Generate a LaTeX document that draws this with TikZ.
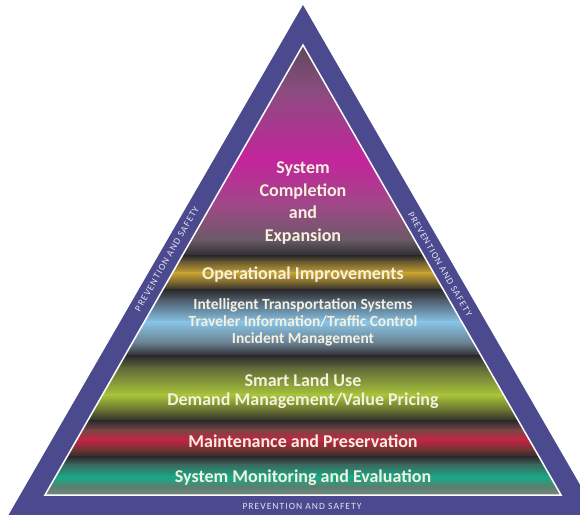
\documentclass[tikz,border=0pt]{standalone}
\usepackage{fontspec}
\setmainfont{Carlito}
\newfontfamily\edgefont[LetterSpace=11]{Carlito}

% frame and lettering
\definecolor{frame}{HTML}{4B4A8F}
\definecolor{ink}{HTML}{F5F1DE}
% colours of the bands, top to bottom
\definecolor{apexgray}{HTML}{5A4856}
\definecolor{mauve}{HTML}{8A4C80}
\definecolor{magenta}{HTML}{C4249C}
\definecolor{plum}{HTML}{A04888}
\definecolor{ash}{HTML}{6A5A66}
\definecolor{gap}{HTML}{2C2B2D}
\definecolor{olivegap}{HTML}{6A5A30}
\definecolor{gold}{HTML}{C8A232}
\definecolor{slate}{HTML}{4E5C6C}
\definecolor{sky}{HTML}{88C4E6}
\definecolor{steel}{HTML}{6A8090}
\definecolor{moss}{HTML}{606A3A}
\definecolor{lime}{HTML}{A8C43A}
\definecolor{drab}{HTML}{5A6030}
\definecolor{rust}{HTML}{7A4444}
\definecolor{crimson}{HTML}{C42444}
\definecolor{maroon}{HTML}{6A3434}
\definecolor{pine}{HTML}{3A6A5E}
\definecolor{teal}{HTML}{18A888}
\definecolor{sage}{HTML}{5A8070}
\definecolor{floor}{HTML}{8A8A8A}

\tikzset{
  layer/.style={text=ink, font=\bfseries\fontsize{18}{22.5}\selectfont, align=center, inner sep=0pt},
  small layer/.style={layer, font=\bfseries\fontsize{15.5}{17}\selectfont},
  rim label/.style={text=white!85!frame, font=\edgefont\fontsize{9.5}{10}\selectfont, inner sep=0pt},
}

\begin{document}
\begin{tikzpicture}[x=1pt, y=-1pt]
    \useasboundingbox (0,0) rectangle (580,514);
    \clip (0,0) rectangle (580,514);

    % Define vertices
    \coordinate (top) at (303,5);
    \coordinate (left) at (-3,535);
    \coordinate (right) at (609,535);
    \coordinate (itop) at (303,45);
    \coordinate (ileft) at (45,495);
    \coordinate (iright) at (561,495);

    % Outer frame
    \fill[frame] (top) -- (right) -- (left) -- cycle;

    % Colour bands inside the pyramid
    \begin{scope}
        \clip (itop) -- (iright) -- (ileft) -- cycle;
        \foreach \ya/\ca/\yb/\cb in {40/apexgray/90/mauve, 90/mauve/160/magenta,
            160/magenta/205/plum, 205/plum/240/ash, 240/ash/256/gap,
            256/gap/262/olivegap, 262/olivegap/273/gold, 273/gold/284/olivegap,
            284/olivegap/290/gap, 290/gap/300/slate, 300/slate/322/sky,
            322/sky/343/steel, 343/steel/356/gap, 356/gap/368/moss,
            368/moss/395/lime, 395/lime/413/drab, 413/drab/421/gap,
            421/gap/430/rust, 430/rust/440/crimson, 440/crimson/450/maroon,
            450/maroon/457/gap, 457/gap/465/pine, 465/pine/477/teal,
            477/teal/487/sage, 487/sage/500/floor}
            \shade[top color=\ca, bottom color=\cb] (40,\ya-0.3) rectangle (566,\yb+0.3);
    \end{scope}

    % White rim of the pyramid
    \draw[white, line width=1.5pt, line join=miter] (itop) -- (iright) -- (ileft) -- cycle;

    % Layer texts
    \node[layer] (expansion) at (303,203) {System\\Completion\\and\\Expansion};
    \node[layer] (operations) at (303,275) {Operational Improvements};
    \node[small layer] (its) at (303,322) {Intelligent Transportation Systems\\Traveler Information/Traffic Control\\Incident Management};
    \node[layer, font=\bfseries\fontsize{18}{19}\selectfont] (landuse) at (303,391) {Smart Land Use\\Demand Management/Value Pricing};
    \node[layer] (maintenance) at (303,441) {Maintenance and Preservation};
    \node[layer] (monitoring) at (303,478) {System Monitoring and Evaluation};

    % Labels along the frame
    \node[rim label, rotate=60] (leftrim) at (167,259) {PREVENTION AND SAFETY};
    \node[rim label, rotate=-60] (rightrim) at (440,264) {PREVENTION AND SAFETY};
    \node[rim label] (baserim) at (302,506) {PREVENTION AND SAFETY};
\end{tikzpicture}
\end{document}
